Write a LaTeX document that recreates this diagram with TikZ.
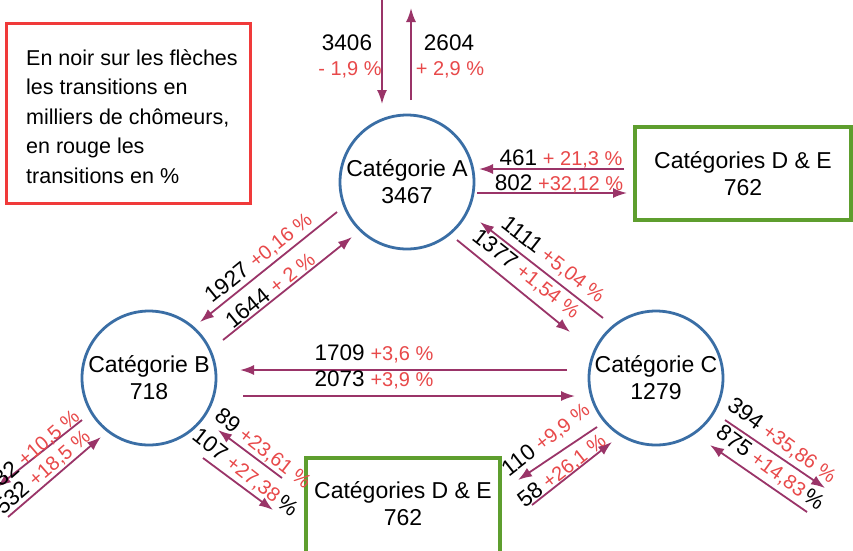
\documentclass[tikz,border=0pt]{standalone}
\usepackage{fontspec}
\setmainfont{Liberation Sans}
\usetikzlibrary{arrows.meta}
\definecolor{arrc}{HTML}{9A3468}
\definecolor{pctc}{HTML}{E8494A}
\definecolor{circc}{HTML}{3A6EA5}
\definecolor{grnc}{HTML}{5E9E2E}
\definecolor{legc}{HTML}{F03A3A}
\newcommand{\numtxt}[1]{{\fontsize{22.5}{24}\selectfont\color{black}#1}\hspace{3pt}}
\newcommand{\pcttxt}[1]{{\fontsize{20}{22}\selectfont\color{pctc}#1}}
\newcommand{\blkpct}{{\fontsize{22}{24}\selectfont\color{black}\%}}
\begin{document}
\begin{tikzpicture}[x=1pt,y=-1pt,
  arr/.style={draw=arrc, line width=1.8pt, -{Latex[length=14pt,width=10pt]}},
  cat/.style={circle, draw=circc, line width=2.8pt, minimum size=134pt, inner sep=0pt, align=center, font=\fontsize{23}{27}\selectfont},
  gbox/.style={draw=grnc, line width=3.5pt},
  gtext/.style={align=center, inner sep=0pt, font=\fontsize{23}{27}\selectfont},
  lab/.style={inner sep=0pt, anchor=center}]
\useasboundingbox (0,0) rectangle (853,550);
\clip (0,0) rectangle (853,550);
\fill[white] (0,0) rectangle (853,550);

% legend
\draw[draw=legc, line width=3pt] (6,23) rectangle (250,203);
\node[anchor=north west, align=left, inner sep=0pt, font=\fontsize{21.5}{29.5}\selectfont] (leg) at (26,49)
  {En noir sur les flèches\\les transitions en\\milliers de chômeurs,\\en rouge les\\transitions en \%};

% categories
\node[cat] (A) at (407,182) {Catégorie A\\3467};
\node[cat] (B) at (149,378) {Catégorie B\\718};
\node[cat] (C) at (656,378) {Catégorie C\\1279};
\node[gbox, minimum width=216pt, minimum height=93pt, inner sep=0pt, align=center, font=\fontsize{23}{27}\selectfont] (DE1) at (743,173.5) {Catégories D \& E\\762};
\draw[gbox] (306,570) |- (500,458) -- (500,570);
\node[gtext] (DE2) at (403,504) {Catégories D \& E\\762};

% arrow end points
\coordinate (t1s) at (382,-5);   \coordinate (t1e) at (382,104);
\coordinate (t2s) at (411,100);  \coordinate (t2e) at (411,8);
\coordinate (r1s) at (624,169);  \coordinate (r1e) at (479,169);
\coordinate (r2s) at (477,193);  \coordinate (r2e) at (627,193);
\coordinate (ab1s) at (337,212); \coordinate (ab1e) at (200,322);
\coordinate (ab2s) at (223,340); \coordinate (ab2e) at (352,237);
\coordinate (ac1s) at (603,318); \coordinate (ac1e) at (480,222);
\coordinate (ac2s) at (457,240); \coordinate (ac2e) at (570,332);
\coordinate (bc1s) at (567,370); \coordinate (bc1e) at (240,370);
\coordinate (bc2s) at (243,396); \coordinate (bc2e) at (575,396);
\coordinate (bl1s) at (82,420);  \coordinate (bl1e) at (-3,487);
\coordinate (bl2s) at (8,517);   \coordinate (bl2e) at (101,437);
\coordinate (bd1s) at (282,478); \coordinate (bd1e) at (218,430);
\coordinate (bd2s) at (203,458); \coordinate (bd2e) at (273,510);
\coordinate (cd1s) at (597,427); \coordinate (cd1e) at (518,480);
\coordinate (cd2s) at (532,505); \coordinate (cd2e) at (612,442);
\coordinate (cr1s) at (725,420); \coordinate (cr1e) at (825,488);
\coordinate (cr2s) at (807,512); \coordinate (cr2e) at (710,445);

\foreach \a in {t1,t2,r1,r2,ab1,ab2,ac1,ac2,bc1,bc2,bl1,bl2,bd1,bd2,cd1,cd2,cr1,cr2}
  \draw[arr] (\a s) -- (\a e);

% labels
\node[lab] (lt1a) at (347,43) {{\fontsize{22.5}{24}\selectfont 3406}};
\node[lab] (lt1b) at (350,70) {\pcttxt{- 1,9 \%}};
\node[lab] (lt2a) at (449,43) {{\fontsize{22.5}{24}\selectfont 2604}};
\node[lab] (lt2b) at (450,70) {\pcttxt{+ 2,9 \%}};
\node[lab] (lr1) at (561,159) {\numtxt{461} \pcttxt{+ 21,3 \%}};
\node[lab] (lr2) at (559,184) {\numtxt{802} \pcttxt{+32,12 \%}};
\node[lab, rotate=39] (lab1) at (259,258) {\numtxt{1927} \pcttxt{+0,16 \%}};
\node[lab, rotate=39] (lab2) at (270,290) {\numtxt{1644} \pcttxt{+ 2 \%}};
\node[lab, rotate=-38] (lac1) at (553,260) {\numtxt{1111} \pcttxt{+5,04 \%}};
\node[lab, rotate=-38] (lac2) at (526,274) {\numtxt{1377} \pcttxt{+1,54 \%}};
\node[lab] (lbc1) at (374,354) {\numtxt{1709} \pcttxt{+3,6 \%}};
\node[lab] (lbc2) at (374,380) {\numtxt{2073} \pcttxt{+3,9 \%}};
\node[lab, rotate=41] (lbl1) at (37,448) {\numtxt{32} \pcttxt{+10,5 \%}};
\node[lab, rotate=41] (lbl2) at (43,472) {\numtxt{532} \pcttxt{+18,5 \%}};
\node[lab, rotate=-38] (lbd1) at (263,449) {\numtxt{89} \pcttxt{+23,61 \%}};
\node[lab, rotate=-38] (lbd2) at (245,473) {\numtxt{107} \pcttxt{+27,38} \blkpct};
\node[lab, rotate=38] (lcd1) at (546,440) {\numtxt{110} \pcttxt{+9,9 \%}};
\node[lab, rotate=38] (lcd2) at (562,471) {\numtxt{58} \pcttxt{+26,1 \%}};
\node[lab, rotate=-36] (lcr1) at (782,441) {\numtxt{394} \pcttxt{+35,86 \%}};
\node[lab, rotate=-36] (lcr2) at (770,468) {\numtxt{875} \pcttxt{+14,83} \blkpct};
\end{tikzpicture}
\end{document}
